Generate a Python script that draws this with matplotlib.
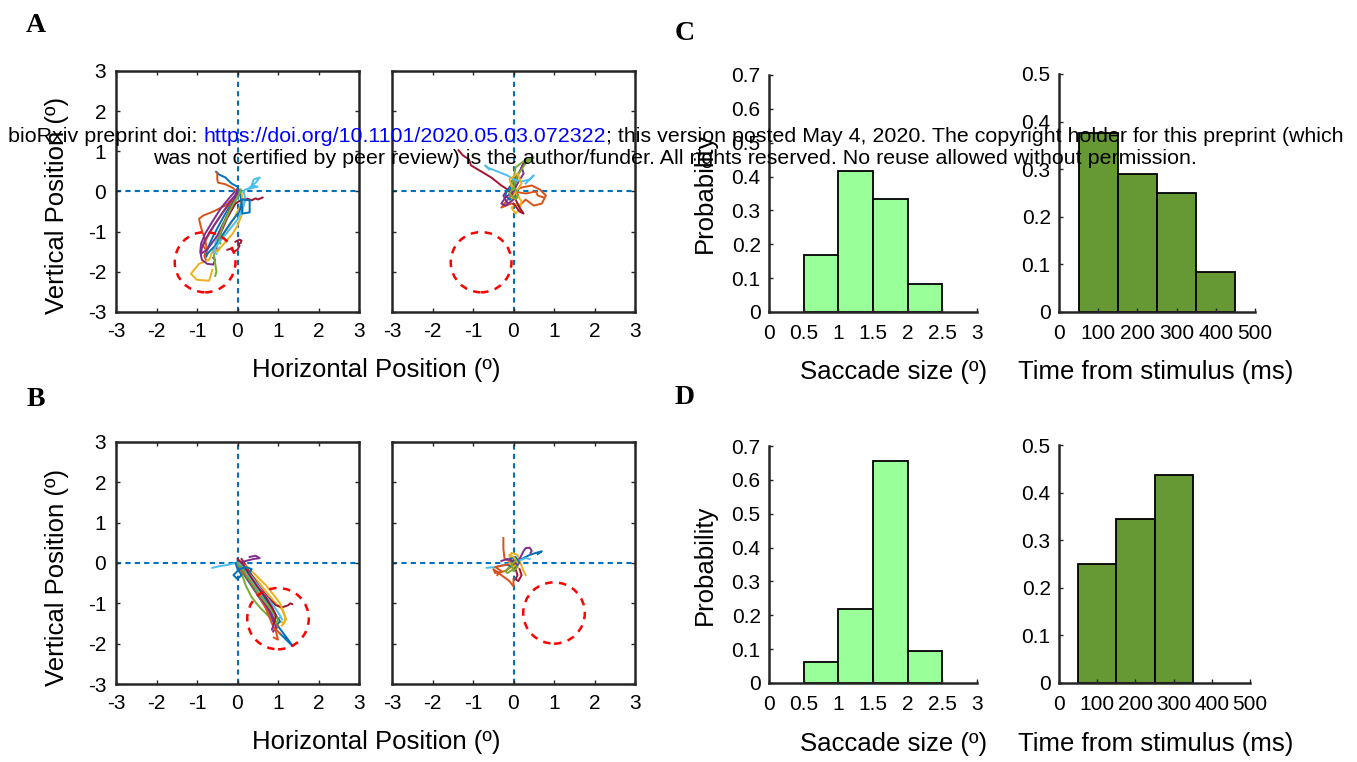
import matplotlib
matplotlib.use("Agg")
import matplotlib.pyplot as plt
from matplotlib.patches import Circle
from cycler import cycler

# ---------------- data ----------------
MATLAB_COLORS = ['#0072BD', '#D95319', '#EDB120', '#7E2F8E', '#77AC30', '#4DBEEE', '#A2142F']

pos_ticks = [-3, -2, -1, 0, 1, 2, 3]
pos_ticklabels = ['-3', '-2', '-1', '0', '1', '2', '3']

# Panel A, left: saccades toward lower-left target
A1_x = [
    [0.02, 0.0, -0.12, -0.3, -0.48, -0.62, -0.72, -0.78, -0.8, -0.74, -0.77],
    [0.0, -0.05, -0.3, -0.6, -0.85, -0.95, -0.9, -0.8, -0.75, -0.82, -0.78],
    [0.05, 0.1, 0.05, -0.1, -0.3, -0.5, -0.62, -0.7, -0.95, -1.15, -1.0, -0.7, -0.62],
    [-0.02, -0.15, -0.4, -0.62, -0.8, -0.9, -0.92, -0.88, -0.75, -0.6, -0.55, -0.6],
    [0.0, -0.05, -0.2, -0.35, -0.48, -0.55, -0.58, -0.55, -0.52, -0.55],
    [0.3, 0.45, 0.55, 0.4, 0.35, 0.5, 0.2, 0.05, -0.1, -0.3, -0.45, -0.55, -0.5, -0.45],
    [0.62, 0.5, 0.45, 0.35, 0.25, 0.1, -0.05, -0.25, -0.4, -0.5, -0.55],
    [-0.53, -0.45, -0.3, -0.15, 0.0, 0.05, 0.08, 0.1, 0.05, -0.15, -0.35, -0.55, -0.7, -0.75],
    [-0.5, -0.5, -0.48, -0.3, -0.1, 0.0, -0.1, -0.35, -0.58, -0.75, -0.85, -0.78],
    [0.1, 0.15, 0.1, 0.0, -0.12, -0.25, -0.38, -0.5, -0.55],
    [0.0, -0.05, -0.25, -0.45, -0.65, -0.8, -0.88, -0.9, -0.75, -0.5, -0.3, -0.12, 0.0],
    [0.08, 0.05, -0.1, -0.25, -0.38, -0.45, -0.42, -0.47],
    [0.15, 0.2, 0.12, 0.0, -0.2, -0.4, -0.55, -0.6, -0.52],
    [-0.25, -0.15, -0.1, 0.0, 0.05, 0.02, 0.08, 0.1, 0.05, -0.05],
    [0.1, 0.3, 0.3, 0.12, 0.1],
]
A1_y = [
    [0.0, -0.05, -0.25, -0.55, -0.88, -1.15, -1.38, -1.52, -1.58, -1.55, -1.62],
    [0.0, -0.1, -0.35, -0.5, -0.6, -0.68, -0.9, -1.2, -1.45, -1.6, -1.7],
    [0.0, -0.2, -0.4, -0.7, -1.0, -1.3, -1.5, -1.7, -1.8, -2.05, -2.2, -2.22, -1.95],
    [0.05, -0.1, -0.4, -0.75, -1.05, -1.3, -1.5, -1.7, -1.8, -1.82, -1.7, -1.65],
    [0.0, -0.15, -0.45, -0.8, -1.1, -1.35, -1.6, -1.8, -2.0, -2.1],
    [0.1, 0.22, 0.35, 0.3, 0.15, 0.12, 0.05, -0.05, -0.35, -0.7, -1.0, -1.3, -1.45, -1.4],
    [-0.15, -0.2, -0.17, -0.22, -0.18, -0.2, -0.3, -0.65, -1.0, -1.3, -1.45],
    [0.49, 0.42, 0.35, 0.2, 0.12, 0.0, -0.15, -0.3, -0.5, -0.75, -1.05, -1.35, -1.5, -1.55],
    [0.47, 0.3, 0.22, 0.18, 0.08, -0.05, -0.2, -0.5, -0.85, -1.15, -1.35, -1.45],
    [-0.05, -0.3, -0.6, -0.85, -1.05, -1.2, -1.35, -1.5, -1.45],
    [0.03, -0.08, -0.35, -0.65, -0.95, -1.2, -1.4, -1.55, -1.45, -1.1, -0.7, -0.3, -0.05],
    [0.05, -0.05, -0.3, -0.6, -0.9, -1.15, -1.3, -1.25],
    [0.0, -0.2, -0.45, -0.7, -0.95, -1.2, -1.4, -1.5, -1.55],
    [-1.45, -1.42, -1.5, -1.45, -1.35, -1.3, -1.28, -1.22, -1.2, -1.25],
    [-0.2, -0.22, -0.52, -0.55, -0.25],
]
A_target = (-0.8, -1.76, 0.75)

# Panel A, right: fixation (no saccade)
A2_x = [
    [0.0, 0.05, -0.05, 0.1, 0.0, -0.1, 0.05, 0.12, 0.0],
    [0.0, 0.2, 0.45, 0.65, 0.8, 0.7, 0.5, 0.3, 0.15, -0.05, -0.3, -0.1, 0.05],
    [0.0, 0.1, 0.2, 0.15, 0.05, -0.05, 0.1, 0.2],
    [0.0, 0.1, 0.25, 0.2, 0.3, 0.15, -0.1, -0.25, -0.15],
    [-0.1, 0.0, 0.05, 0.25, 0.5, 0.3, 0.1, 0.0],
    [-0.6, -0.7, -0.65, -0.4, -0.15, 0.0, 0.2, 0.4, 0.5, 0.3],
    [-1.36, -1.25, -1.1, -1.05, -0.8, -0.55, -0.3, -0.15, 0.0, 0.15, 0.25, 0.15, 0.0],
    [0.0, -0.15, -0.2, -0.1, 0.05, 0.0, -0.1],
    [0.0, 0.3, 0.55, 0.6, 0.75],
    [0.0, -0.1, 0.1, 0.2, 0.0, -0.05],
    [0.0, -0.2, -0.3, -0.2, 0.0],
    [0.1, 0.0, -0.1, 0.05, 0.1],
]
A2_y = [
    [0.0, 0.15, 0.25, 0.35, 0.1, -0.05, -0.2, -0.1, 0.05],
    [0.0, 0.1, 0.15, 0.05, -0.1, -0.3, -0.35, -0.2, -0.35, -0.3, -0.4, -0.15, 0.0],
    [0.0, -0.1, -0.25, -0.45, -0.55, -0.4, -0.3, -0.5],
    [0.0, 0.2, 0.45, 0.6, 0.8, 0.5, 0.1, -0.1, -0.3],
    [0.0, 0.3, 0.6, 0.75, 0.85, 0.7, 0.4, 0.1],
    [0.55, 0.65, 0.6, 0.5, 0.4, 0.3, 0.25, 0.3, 0.4, 0.2],
    [1.03, 0.9, 0.8, 0.65, 0.5, 0.35, 0.15, 0.05, -0.1, -0.4, -0.55, -0.5, -0.3],
    [0.0, 0.05, -0.1, -0.2, -0.15, 0.05, 0.1],
    [0.0, -0.05, 0.0, -0.1, -0.15],
    [0.0, 0.3, 0.45, 0.2, -0.1, -0.25],
    [0.0, -0.15, -0.3, -0.35, -0.2],
    [0.0, 0.1, -0.05, -0.2, -0.1],
]

# Panel B, left: saccades toward lower-right target
B1_x = [
    [0.0, 0.05, 0.2, 0.4, 0.6, 0.8, 0.95, 1.1, 1.25, 1.36, 1.2, 1.05],
    [0.0, 0.1, 0.25, 0.45, 0.6, 0.75, 0.9, 1.0, 0.95, 1.05],
    [0.15, 0.3, 0.5, 0.7, 0.9, 1.1, 1.18, 1.15, 1.05, 1.0],
    [0.05, 0.15, 0.3, 0.5, 0.65, 0.8, 0.9, 0.95, 0.88],
    [0.05, 0.1, 0.2, 0.35, 0.55, 0.75, 0.9, 0.95, 0.85, 0.7, 0.5, 0.3, 0.12, 0.05],
    [-0.62, -0.45, -0.25, -0.05, 0.1, 0.3, 0.5, 0.7, 0.85, 1.0, 1.05],
    [0.1, 0.2, 0.35, 0.55, 0.75, 0.95, 1.1, 1.25, 1.3, 1.35],
    [0.0, 0.15, 0.35, 0.55, 0.7, 0.85, 0.95, 1.05, 1.0],
    [0.0, 0.1, 0.3, 0.5, 0.65, 0.75, 0.85, 0.95, 1.0, 0.9],
    [0.05, 0.25, 0.45, 0.7, 0.9, 1.05, 1.15, 1.2, 1.1],
    [0.3, 0.45, 0.55, 0.4, 0.2, 0.05, 0.2, 0.4, 0.6, 0.8, 0.9, 0.85],
    [0.0, 0.15, 0.35, 0.55, 0.75, 0.9, 1.0, 0.95],
    [0.05, 0.2, 0.4, 0.6, 0.8, 0.95, 1.05, 1.1],
    [0.0, 0.15, 0.3, 0.5, 0.7, 0.85, 0.95, 0.9],
    [-0.05, 0.0, 0.1, 0.0, -0.1, 0.05, 0.2, 0.35, 0.3],
]
B1_y = [
    [0.0, -0.1, -0.35, -0.65, -0.95, -1.25, -1.5, -1.7, -1.9, -2.06, -1.9, -1.75],
    [0.0, -0.15, -0.4, -0.7, -0.95, -1.2, -1.4, -1.55, -1.65, -1.75],
    [-0.1, -0.25, -0.45, -0.7, -0.95, -1.15, -1.35, -1.5, -1.45, -1.4],
    [0.05, -0.1, -0.35, -0.65, -0.9, -1.15, -1.4, -1.6, -1.7],
    [0.0, -0.25, -0.55, -0.85, -1.1, -1.3, -1.45, -1.35, -1.15, -0.9, -0.6, -0.35, -0.15, 0.0],
    [-0.12, -0.08, -0.05, 0.0, -0.1, -0.35, -0.65, -0.95, -1.2, -1.4, -1.35],
    [0.1, -0.05, -0.3, -0.6, -0.85, -1.05, -1.1, -1.05, -1.0, -1.02],
    [0.05, -0.1, -0.35, -0.65, -0.9, -1.1, -1.3, -1.45, -1.5],
    [0.0, -0.2, -0.45, -0.75, -1.0, -1.25, -1.5, -1.7, -1.9, -1.85],
    [0.0, -0.1, -0.3, -0.55, -0.8, -1.0, -1.25, -1.4, -1.55],
    [0.15, 0.18, 0.12, 0.1, 0.05, 0.0, -0.3, -0.6, -0.9, -1.2, -1.5, -1.65],
    [0.0, -0.2, -0.5, -0.8, -1.05, -1.25, -1.4, -1.5],
    [0.0, -0.15, -0.4, -0.7, -0.95, -1.15, -1.3, -1.4],
    [0.1, -0.05, -0.3, -0.6, -0.85, -1.1, -1.3, -1.5],
    [0.0, -0.15, -0.3, -0.4, -0.3, -0.15, -0.1, -0.15, -0.25],
]
B1_target = (1.0, -1.38, 0.76)

# Panel B, right: fixation
B2_x = [
    [0.0, 0.2, 0.4, 0.55, 0.7, 0.6],
    [-0.25, -0.25, -0.22, -0.1, 0.0, -0.2, -0.45, -0.5, -0.3, -0.1, 0.0, 0.0],
    [0.0, -0.1, -0.05, 0.1, 0.15, 0.25, 0.3],
    [0.0, 0.15, 0.25, 0.3, 0.4, 0.45, 0.42],
    [0.0, -0.1, -0.2, -0.15, 0.0, 0.1],
    [-0.66, -0.45, -0.25, -0.05, 0.1, 0.3, 0.4],
    [0.0, 0.05, 0.1, 0.05, 0.12, 0.2, 0.15],
    [0.0, -0.1, 0.05, 0.15, 0.0, -0.15],
    [-0.4, -0.3, -0.45, -0.2, 0.0],
    [-0.1, 0.0, 0.1, 0.0, -0.1],
    [-0.3, -0.15, 0.0, 0.1],
    [0.1, 0.0, -0.05, 0.05],
]
B2_y = [
    [0.0, 0.1, 0.2, 0.25, 0.29, 0.22],
    [0.62, 0.35, 0.1, 0.05, -0.05, -0.2, -0.25, -0.15, -0.3, -0.45, -0.58, -0.4],
    [0.0, 0.15, 0.25, 0.2, 0.05, -0.2, -0.3],
    [0.0, 0.1, 0.3, 0.37, 0.38, 0.3, 0.25],
    [0.0, -0.1, -0.2, -0.25, -0.15, -0.05],
    [-0.12, -0.1, -0.05, 0.0, 0.05, 0.12, 0.1],
    [0.0, -0.15, -0.3, -0.4, -0.45, -0.3, -0.15],
    [0.0, 0.1, 0.15, 0.0, -0.1, -0.05],
    [-0.3, -0.2, -0.1, -0.05, 0.0],
    [0.2, 0.15, 0.0, -0.1, 0.0],
    [0.05, 0.1, 0.05, -0.05],
    [-0.1, -0.2, -0.05, 0.05],
]
B2_target = (1.0, -1.24, 0.76)

# Histograms
size_centers = [0.75, 1.25, 1.75, 2.25]
size_width = 0.5
C_size_prob = [0.167, 0.417, 0.333, 0.083]
D_size_prob = [0.0625, 0.219, 0.656, 0.094]
size_ticks = [0, 0.5, 1, 1.5, 2, 2.5, 3]
size_ticklabels = ['0', '0.5', '1', '1.5', '2', '2.5', '3']
size_yticks = [0, 0.1, 0.2, 0.3, 0.4, 0.5, 0.6, 0.7]
size_yticklabels = ['0', '0.1', '0.2', '0.3', '0.4', '0.5', '0.6', '0.7']

time_centers = [100, 200, 300, 400]
time_width = 100
C_time_prob = [0.375, 0.29, 0.25, 0.083]
D_time_centers = [100, 200, 300]
D_time_prob = [0.25, 0.344, 0.4375]
time_ticks = [0, 100, 200, 300, 400, 500]
time_ticklabels = ['0', '100', '200', '300', '400', '500']
time_yticks = [0, 0.1, 0.2, 0.3, 0.4, 0.5]
time_yticklabels = ['0', '0.1', '0.2', '0.3', '0.4', '0.5']

# ---------------- figure ----------------
W, H = 1357, 762
plt.rcParams['font.family'] = ['Liberation Sans', 'DejaVu Sans']
fig = plt.figure(figsize=(W / 100, H / 100), dpi=100)
AX_COL = '#262626'


def px_axes(x0, y0, x1, y1):
    return fig.add_axes([x0 / W, 1 - y1 / H, (x1 - x0) / W, (y1 - y0) / H])


def scatter_panel(ax, xs_list, ys_list, target, show_ylabels=True):
    ax.set_prop_cycle(cycler(color=MATLAB_COLORS))
    ax.axvline(0, color='#0072BD', lw=1.5, ls=(0, (2.5, 2.0)), zorder=1)
    ax.axhline(0, color='#0072BD', lw=1.5, ls=(0, (2.5, 2.0)), zorder=1)
    for xs, ys in zip(xs_list, ys_list):
        ax.plot(xs, ys, lw=1.4, zorder=2)
    ax.add_patch(Circle((target[0], target[1]), target[2], fill=False,
                        ec='#FF0000', lw=1.8, ls=(0, (3.0, 2.6)), zorder=3))
    ax.set_xlim(-3, 3)
    ax.set_ylim(-3, 3)
    ax.set_xticks(pos_ticks)
    ax.set_xticklabels(pos_ticklabels)
    ax.set_yticks(pos_ticks)
    if show_ylabels:
        ax.set_yticklabels(pos_ticklabels)
    else:
        ax.set_yticklabels([])
    for s in ax.spines.values():
        s.set_color(AX_COL)
        s.set_linewidth(1.8)
    ax.tick_params(direction='in', length=3, width=1, color=AX_COL,
                   labelsize=15, top=True, right=True, pad=7)


def hist_panel(ax, centers, vals, width, color, xlim, ylim, xticks, xtl, yticks, ytl):
    ax.bar(centers, vals, width=width, color=color, edgecolor='black',
           linewidth=1.3, zorder=1)
    ax.set_xlim(*xlim)
    ax.set_ylim(*ylim)
    ax.set_xticks(xticks)
    ax.set_xticklabels(xtl)
    ax.set_yticks(yticks)
    ax.set_yticklabels(ytl)
    ax.spines['top'].set_visible(False)
    ax.spines['right'].set_visible(False)
    for s in ('left', 'bottom'):
        ax.spines[s].set_color(AX_COL)
        ax.spines[s].set_linewidth(1.8)
    ax.tick_params(direction='in', length=3, width=1, color=AX_COL, labelsize=15)
    ax.tick_params(axis='x', pad=9)
    ax.tick_params(axis='y', pad=6)


axA1 = px_axes(116, 71, 359, 312)
axA2 = px_axes(392, 71, 635, 312)
axB1 = px_axes(116, 442, 359, 684)
axB2 = px_axes(392, 442, 635, 684)

scatter_panel(axA1, A1_x, A1_y, A_target)
scatter_panel(axA2, A2_x, A2_y, A_target, show_ylabels=False)
scatter_panel(axB1, B1_x, B1_y, B1_target)
scatter_panel(axB2, B2_x, B2_y, B2_target, show_ylabels=False)

LIGHT_GREEN = '#99FF99'
DARK_GREEN = '#669933'

axC1 = px_axes(769, 75, 977, 312)
axC2 = px_axes(1059, 74, 1255, 312)
axD1 = px_axes(769, 446, 977, 683)
axD2 = px_axes(1059, 445, 1250, 683)

hist_panel(axC1, size_centers, C_size_prob, size_width, LIGHT_GREEN, (0, 3), (0, 0.7),
           size_ticks, size_ticklabels, size_yticks, size_yticklabels)
hist_panel(axC2, time_centers, C_time_prob, time_width, DARK_GREEN, (0, 500), (0, 0.5),
           time_ticks, time_ticklabels, time_yticks, time_yticklabels)
hist_panel(axD1, size_centers, D_size_prob, size_width, LIGHT_GREEN, (0, 3), (0, 0.7),
           size_ticks, size_ticklabels, size_yticks, size_yticklabels)
hist_panel(axD2, D_time_centers, D_time_prob, time_width, DARK_GREEN, (0, 500), (0, 0.5),
           time_ticks, time_ticklabels, time_yticks, time_yticklabels)

LABEL_FS = 18.5


def ftext(x, y, s, **kw):
    return fig.text(x / W, 1 - y / H, s, **kw)


# axis labels
for yb in (370, 742):
    ftext(376, yb, 'Horizontal Position (º)', fontsize=LABEL_FS, ha='center', va='center')
for yc in (205, 577):
    ftext(57, yc, 'Vertical Position (º)', fontsize=LABEL_FS, ha='center', va='center',
          rotation=90)
for yb in (372, 744):
    ftext(894, yb, 'Saccade size (º)', fontsize=LABEL_FS, ha='center', va='center')
    ftext(1156, yb, 'Time from stimulus (ms)', fontsize=LABEL_FS, ha='center', va='center')
for yc in (193, 565):
    ftext(705, yc, 'Probability', fontsize=LABEL_FS, ha='center', va='center', rotation=90)

# panel letters
for letter, (x, y) in {'A': (36, 25), 'B': (36, 400), 'C': (685, 33), 'D': (685, 397)}.items():
    ftext(x, y, letter, fontsize=20, fontweight='bold', ha='center', va='center',
          family=['Liberation Serif', 'DejaVu Serif'])

# watermark
wm_line1 = [("bioRxiv preprint doi: ", 'black'),
            ("https://doi.org/10.1101/2020.05.03.072322", '#0000FF'),
            ("; this version posted May 4, 2020. The copyright holder for this preprint (which", 'black')]
wm_line2 = "was not certified by peer review) is the author/funder. All rights reserved. No reuse allowed without permission."

renderer = fig.canvas.get_renderer()
WM_FS = 13.5
pieces = [ftext(0, 142, s, color=c, fontsize=WM_FS, ha='left', va='baseline', zorder=10)
          for s, c in wm_line1]
widths = [p.get_window_extent(renderer).width for p in pieces]
fs = WM_FS * 1335.0 / sum(widths)
for p in pieces:
    p.set_fontsize(fs)
widths = [p.get_window_extent(renderer).width for p in pieces]
x = 675.5 - sum(widths) / 2
for p, w in zip(pieces, widths):
    p.set_x(x / W)
    x += w
ftext(675, 164, wm_line2, fontsize=fs, ha='center', va='baseline', zorder=10)

fig.savefig('out.png', dpi=100)
